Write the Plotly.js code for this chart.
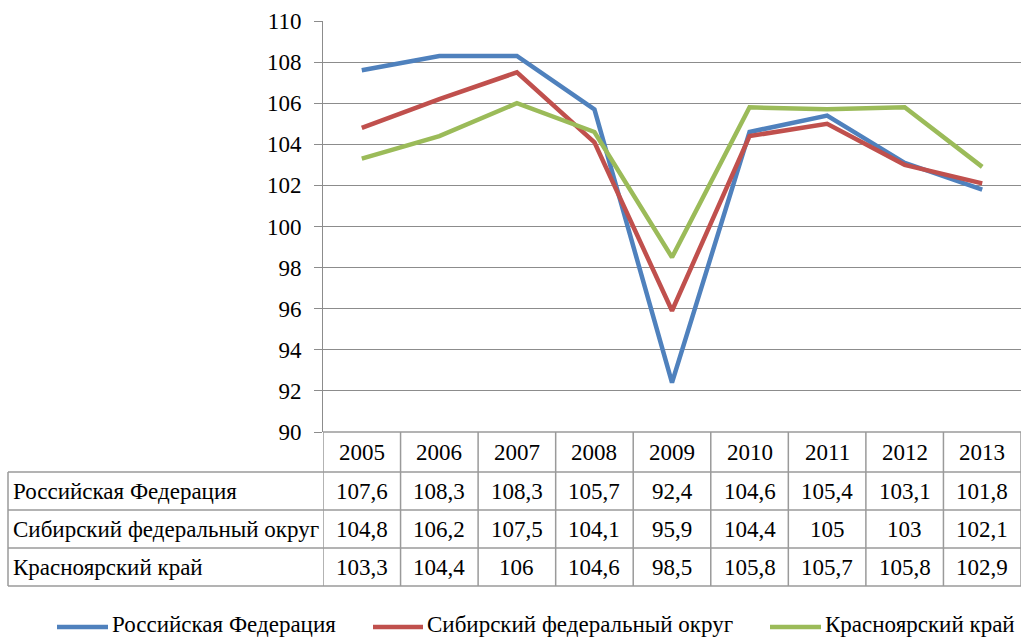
<!DOCTYPE html>
<html>
<head>
<meta charset="utf-8">
<script src="https://cdn.plot.ly/plotly-3.0.1.min.js"></script>
<style>html,body{margin:0;padding:0;background:#fff;}#chart{width:1022px;height:637px;}</style>
</head>
<body>
<div id="chart"></div>
<script>
// ---- data ----
const years = ["2005","2006","2007","2008","2009","2010","2011","2012","2013"];
const seriesNames = ["Российская Федерация", "Сибирский федеральный округ", "Красноярский край"];
const russia = [107.6, 108.3, 108.3, 105.7, 92.4, 104.6, 105.4, 103.1, 101.8];
const siberia = [104.8, 106.2, 107.5, 104.1, 95.9, 104.4, 105, 103, 102.1];
const krasnoyarsk = [103.3, 104.4, 106, 104.6, 98.5, 105.8, 105.7, 105.8, 102.9];
const yTicks = [90, 92, 94, 96, 98, 100, 102, 104, 106, 108, 110];

// ---- style ----
const colors = ["#4f81bd", "#c0504d", "#9bbb59"];
const FONT = "Liberation Serif";
const FS = 23;
const W = 1022, H = 637;
const L = 323, R = 1021, T = 21, B = 432;
const pw = R - L, ph = B - T;
const px2x = p => (p - L) / pw;
const py2y = p => (B - p) / ph;

const allSeries = [russia, siberia, krasnoyarsk];
const xs = years.map((_, i) => i);

const traces = allSeries.map((vals, k) => ({
  x: xs, y: vals, type: 'scatter', mode: 'lines', name: seriesNames[k],
  line: {color: colors[k], width: 4.5},
  hoverinfo: 'skip'
}));

const gridCol = '#9a9a9a';
const shapes = [];
const annotations = [];
const rowEdges = [432, 472, 510, 548, 586];
// horizontal lines
shapes.push({type:'line', xref:'paper', yref:'paper', x0:0, x1:1, y0:py2y(rowEdges[0]), y1:py2y(rowEdges[0]), line:{color:gridCol, width:1.5}});
for (let r = 1; r < rowEdges.length; r++) {
  shapes.push({type:'line', xref:'paper', yref:'paper', x0:px2x(8), x1:1, y0:py2y(rowEdges[r]), y1:py2y(rowEdges[r]), line:{color:gridCol, width:1.5}});
}
// vertical lines
for (let i = 0; i <= years.length; i++) {
  shapes.push({type:'line', xref:'x', yref:'paper', x0:i-0.5, x1:i-0.5, y0:py2y(rowEdges[0]), y1:py2y(rowEdges[4]), line:{color:gridCol, width:1.5}});
}
shapes.push({type:'line', xref:'paper', yref:'paper', x0:px2x(8), x1:px2x(8), y0:py2y(rowEdges[1]), y1:py2y(rowEdges[4]), line:{color:gridCol, width:1.5}});

const fmt = v => String(v).replace('.', ',');
const textFont = {family: FONT, size: FS, color: '#000'};
// header
years.forEach((yr, i) => {
  annotations.push({xref:'x', yref:'paper', x:i, y:py2y((rowEdges[0]+rowEdges[1])/2), text:yr, showarrow:false, font:textFont, xanchor:'center', yanchor:'middle'});
});
allSeries.forEach((vals, k) => {
  const yc = py2y((rowEdges[k+1] + rowEdges[k+2]) / 2);
  annotations.push({xref:'paper', yref:'paper', x:px2x(11), y:yc, text:seriesNames[k], showarrow:false, font:textFont, xanchor:'left', yanchor:'middle'});
  vals.forEach((v, i) => {
    annotations.push({xref:'x', yref:'paper', x:i, y:yc, text:fmt(v), showarrow:false, font:textFont, xanchor:'center', yanchor:'middle'});
  });
});
// legend
const legSample = [[57, 108], [373, 423], [770, 821]];
const legY = py2y(624);
seriesNames.forEach((n, k) => {
  shapes.push({type:'line', xref:'paper', yref:'paper', x0:px2x(legSample[k][0]), x1:px2x(legSample[k][1]), y0:py2y(627), y1:py2y(627), line:{color:colors[k], width:4.5}});
  annotations.push({xref:'paper', yref:'paper', x:px2x(legSample[k][1] + 2), y:legY, text:n, showarrow:false, font:textFont, xanchor:'left', yanchor:'middle'});
});

const layout = {
  width: W, height: H,
  margin: {l: L, r: W - R, t: T, b: H - B, pad: 0},
  paper_bgcolor: '#fff', plot_bgcolor: '#fff',
  showlegend: false,
  font: {family: FONT, size: FS, color: '#000'},
  xaxis: {range: [-0.5, years.length - 0.5], showticklabels: false, showgrid: false, zeroline: false, showline: false, ticks: '', fixedrange: true},
  yaxis: {range: [90, 110], tickvals: yTicks, ticktext: yTicks.map(String), showgrid: true, gridcolor: '#8c8c8c', gridwidth: 1,
          showline: true, linecolor: '#8c8c8c', linewidth: 1, ticks: 'outside', ticklen: 8, tickcolor: '#8c8c8c',
          ticklabelstandoff: 8,
          zeroline: false, tickfont: {family: FONT, size: FS, color: '#000'}, fixedrange: true},
  shapes: shapes,
  annotations: annotations
};

Plotly.newPlot('chart', traces, layout, {displayModeBar: false, staticPlot: true});
</script>
</body>
</html>
